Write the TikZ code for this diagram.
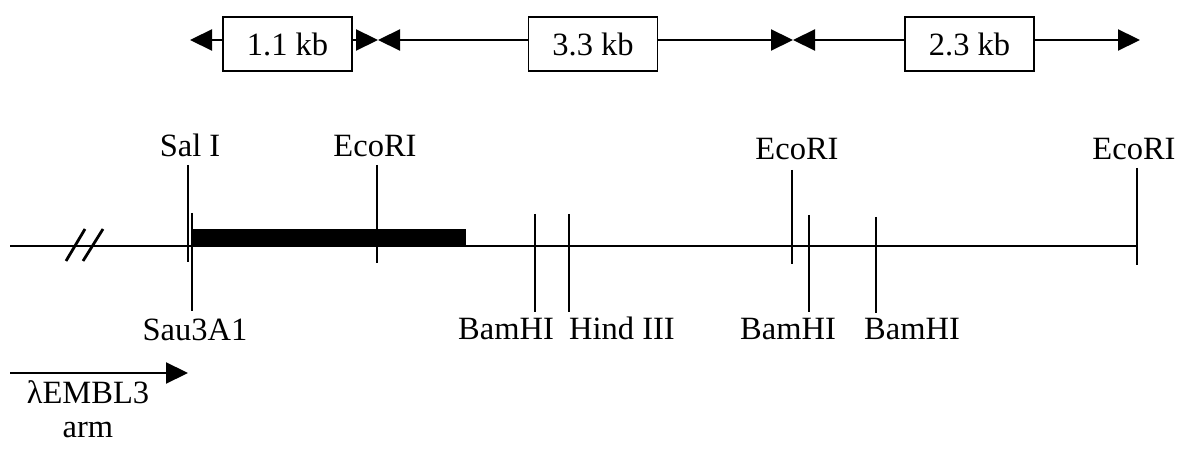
\documentclass[tikz,border=0pt]{standalone}
\usepackage{fontspec}
\setmainfont{Liberation Serif}
\usetikzlibrary{arrows.meta}
\begin{document}
\begin{tikzpicture}[x=1pt,y=-1pt,
  lab/.style={font=\fontsize{32.5}{38}\selectfont, inner sep=0pt, anchor=base},
  kbbox/.style={draw, line width=1.8pt, minimum width=129pt, minimum height=54pt, inner sep=0pt, font=\fontsize{32.5}{38}\selectfont},
  tickline/.style={line width=2.8pt},
  arr/.style={line width=2.2pt, -{Triangle[length=22pt,width=21pt]}},
]
\useasboundingbox (0,0) rectangle (1203,462);
% top scale boxes
\node[kbbox] (b1) at (287.5,44) {1.1 kb};
\node[kbbox] (b2) at (593,44) {3.3 kb};
\node[kbbox] (b3) at (969.5,44) {2.3 kb};
\coordinate (t1) at (190,40);
\coordinate (m1) at (378,40);
\coordinate (m2) at (793,40);
\coordinate (t2) at (1140,40);
\draw[arr] ([yshift=4pt]b1.west) -- (t1);
\draw[arr] ([yshift=4pt]b1.east) -- (m1);
\draw[arr] ([yshift=4pt]b2.west) -- (m1);
\draw[arr] ([yshift=4pt]b2.east) -- (m2);
\draw[arr] ([yshift=4pt]b3.west) -- (m2);
\draw[arr] ([yshift=4pt]b3.east) -- (t2);
% main line
\coordinate (L0) at (10,246);
\coordinate (L1) at (1138,246);
\draw[line width=2.6pt] (L0) -- (L1);
\draw[line width=2.8pt] (66,261) -- (85,229);
\draw[line width=2.8pt] (83,261) -- (103,229);
% insert bar
\fill (192,229) rectangle (466,247);
% sites
\draw[tickline] (188,165) -- (188,262);
\draw[tickline] (192,213) -- (192,311);
\draw[tickline] (377,165) -- (377,263);
\draw[tickline] (535,214) -- (535,312);
\draw[tickline] (569,214) -- (569,312);
\draw[tickline] (792,170) -- (792,264);
\draw[tickline] (809,215) -- (809,312);
\draw[tickline] (876,217) -- (876,313);
\draw[tickline] (1137,168) -- (1137,265);
% labels
\node[lab] (sal) at (190,157) {Sal I};
\node[lab] (eco1) at (375,157) {EcoRI};
\node[lab] (eco2) at (797,160) {EcoRI};
\node[lab] (eco3) at (1134,160) {EcoRI};
\node[lab] (sau) at (195,341) {Sau3A1};
\node[lab] (bam1) at (506,340) {BamHI};
\node[lab] (hind) at (622,340) {Hind III};
\node[lab] (bam2) at (788,340) {BamHI};
\node[lab] (bam3) at (912,340) {BamHI};
% lambda arm
\coordinate (a0) at (10,373);
\coordinate (a1) at (188,373);
\draw[arr] (a0) -- (a1);
\node[lab] (emb) at (88,404) {λEMBL3};
\node[lab] (arm) at (88,438) {arm};
\end{tikzpicture}
\end{document}
